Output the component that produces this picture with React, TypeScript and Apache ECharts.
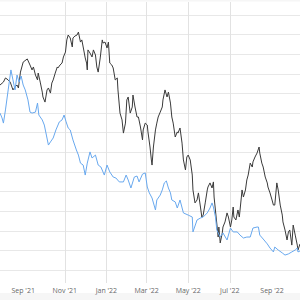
import React, { useEffect, useRef } from 'react';
import * as echarts from 'echarts';

const blackDates = [
  '2021-07-29','2021-08-03','2021-08-06','2021-08-10','2021-08-13','2021-08-17','2021-08-20','2021-08-23','2021-08-25','2021-08-28',
  '2021-09-01','2021-09-07','2021-09-11','2021-09-14','2021-09-16','2021-09-19','2021-09-22','2021-09-23','2021-09-26','2021-09-29',
  '2021-09-30','2021-10-03','2021-10-06','2021-10-08','2021-10-11','2021-10-13','2021-10-15','2021-10-18','2021-10-21','2021-10-22',
  '2021-10-25','2021-10-28','2021-10-30','2021-11-02','2021-11-04','2021-11-06','2021-11-09','2021-11-12','2021-11-13','2021-11-16',
  '2021-11-19','2021-11-21','2021-11-24','2021-11-26','2021-11-28','2021-12-01','2021-12-03','2021-12-04','2021-12-05','2021-12-08',
  '2021-12-11','2021-12-13','2021-12-16','2021-12-18','2021-12-20','2021-12-23','2021-12-26','2021-12-27','2021-12-30','2022-01-02',
  '2022-01-04','2022-01-06','2022-01-09','2022-01-11','2022-01-14','2022-01-17','2022-01-18','2022-01-21','2022-01-24','2022-01-26',
  '2022-01-29','2022-01-31','2022-02-02','2022-02-05','2022-02-08','2022-02-09','2022-02-12','2022-02-15','2022-02-17','2022-02-20',
  '2022-02-23','2022-02-24','2022-02-27','2022-03-02','2022-03-03','2022-03-06','2022-03-08','2022-03-09','2022-03-11','2022-03-14',
  '2022-03-16','2022-03-18','2022-03-21','2022-03-24','2022-03-25','2022-03-28','2022-03-31','2022-04-02','2022-04-05','2022-04-07',
  '2022-04-09','2022-04-12','2022-04-15','2022-04-16','2022-04-19','2022-04-22','2022-04-24','2022-04-27','2022-04-29','2022-05-01',
  '2022-05-04','2022-05-07','2022-05-08','2022-05-11','2022-05-14','2022-05-16','2022-05-19','2022-05-21','2022-05-23','2022-05-26',
  '2022-05-29','2022-05-30','2022-06-02','2022-06-05','2022-06-07','2022-06-08','2022-06-11','2022-06-14','2022-06-15','2022-06-17',
  '2022-06-20','2022-06-21','2022-06-24','2022-06-27','2022-06-29','2022-07-02','2022-07-04','2022-07-06','2022-07-07','2022-07-10',
  '2022-07-13','2022-07-15','2022-07-18','2022-07-19','2022-07-21','2022-07-24','2022-07-26','2022-07-28','2022-07-31','2022-08-03',
  '2022-08-04','2022-08-07','2022-08-10','2022-08-13','2022-08-14','2022-08-17','2022-08-19','2022-08-22','2022-08-25','2022-08-26',
  '2022-08-29','2022-09-01','2022-09-03','2022-09-05','2022-09-08','2022-09-10','2022-09-13','2022-09-16','2022-09-17','2022-09-20',
  '2022-09-23','2022-09-25','2022-09-27','2022-09-30','2022-10-02','2022-10-05','2022-10-08','2022-10-09','2022-10-12',
];
const blackValues = [
  134.3,135.8,137.9,136.9,135.8,131.8,133.3,134.3,132.8,140.9,
  146.0,147.6,144.5,142.0,143.5,139.4,136.9,140.4,135.8,130.7,
  128.2,125.6,131.8,132.8,130.2,135.3,136.9,140.4,143.5,143.0,
  144.5,145.5,148.6,151.1,157.3,159.8,158.3,153.7,158.3,159.3,
  159.8,161.3,156.2,157.3,153.7,148.1,145.5,142.0,152.2,150.6,
  148.6,152.2,149.6,143.5,140.9,148.1,157.3,155.7,156.2,153.2,
  156.2,145.5,144.5,143.0,136.9,137.9,131.8,120.0,116.5,109.8,
  114.9,126.7,128.2,120.0,123.1,129.2,123.1,118.0,118.0,112.9,
  106.3,111.4,114.9,113.9,110.4,102.7,96.1,93.5,102.7,111.4,
  114.9,118.0,120.5,123.1,126.7,131.8,128.2,130.7,125.1,118.0,
  114.9,107.8,110.4,109.8,112.4,104.7,96.1,91.0,97.6,98.6,
  96.1,88.4,80.8,74.2,75.7,79.3,72.1,67.0,68.0,74.2,
  80.8,82.3,84.4,81.8,84.9,77.2,67.0,56.8,61.9,53.8,
  58.9,61.9,64.5,69.1,67.0,61.9,65.5,72.1,67.0,65.5,
  70.6,67.0,77.2,80.8,77.2,80.8,85.9,88.4,94.5,92.5,
  95.1,97.6,99.6,102.7,99.6,94.5,92.5,87.4,84.4,82.3,
  79.3,75.7,73.1,73.1,84.4,80.8,73.1,68.0,64.5,60.4,
  55.3,59.4,60.4,52.7,62.9,57.8,52.7,50.2,53.3,
];

const blueDates = [
  '2021-07-29','2021-08-01','2021-08-03','2021-08-06','2021-08-10','2021-08-13','2021-08-14','2021-08-17','2021-08-20','2021-08-23',
  '2021-08-26','2021-08-29','2021-09-01','2021-09-04','2021-09-08','2021-09-11','2021-09-14','2021-09-19','2021-09-22','2021-09-24',
  '2021-09-29','2021-10-02','2021-10-05','2021-10-08','2021-10-11','2021-10-15','2021-10-19','2021-10-24','2021-10-28','2021-10-31',
  '2021-11-03','2021-11-06','2021-11-09','2021-11-13','2021-11-18','2021-11-21','2021-11-24','2021-11-28','2021-12-01','2021-12-04',
  '2021-12-08','2021-12-11','2021-12-16','2021-12-20','2021-12-24','2021-12-29','2022-01-02','2022-01-06','2022-01-11','2022-01-15',
  '2022-01-20','2022-01-26','2022-01-30','2022-02-02','2022-02-06','2022-02-11','2022-02-15','2022-02-18','2022-02-23','2022-02-27',
  '2022-03-02','2022-03-05','2022-03-09','2022-03-14','2022-03-16','2022-03-21','2022-03-24','2022-03-27','2022-03-30','2022-04-02',
  '2022-04-05','2022-04-07','2022-04-12','2022-04-15','2022-04-19','2022-04-24','2022-05-01','2022-05-07','2022-05-08','2022-05-14',
  '2022-05-19','2022-05-23','2022-05-29','2022-06-02','2022-06-05','2022-06-07','2022-06-10','2022-06-12','2022-06-17','2022-06-21',
  '2022-06-27','2022-07-02','2022-07-06','2022-07-12','2022-07-16','2022-07-21','2022-07-26','2022-07-31','2022-08-04','2022-08-10',
  '2022-08-12','2022-08-14','2022-08-19','2022-08-25','2022-08-29','2022-09-03','2022-09-05','2022-09-10','2022-09-16','2022-09-20',
  '2022-09-25','2022-09-30','2022-10-05','2022-10-08','2022-10-09','2022-10-12',
];
const blueValues = [
  120.0,117.5,114.9,121.6,131.8,139.4,142.0,136.9,131.8,139.4,
  135.8,138.9,134.3,131.8,126.7,120.5,120.0,120.5,125.1,119.0,
  116.5,113.9,108.8,103.7,105.3,107.3,111.4,115.5,116.5,119.0,
  115.5,112.4,111.4,106.3,101.2,98.6,94.5,93.5,88.4,94.5,
  100.2,97.1,98.6,93.5,92.5,88.4,93.5,90.0,87.4,86.9,
  84.9,84.9,88.4,85.9,81.8,87.4,87.9,84.9,88.9,89.5,
  82.3,79.3,76.7,70.6,75.7,78.2,80.8,84.4,85.4,81.8,
  79.3,75.7,74.7,71.6,75.7,69.1,68.0,67.0,59.4,65.5,
  66.5,67.0,69.1,71.6,74.2,72.1,67.0,60.4,56.8,58.9,
  55.3,61.4,59.4,59.4,57.8,56.3,56.8,56.8,61.4,61.9,
  61.9,57.8,55.8,53.3,51.2,49.2,51.7,50.2,48.7,47.6,
  48.2,49.2,50.2,51.2,49.2,49.7,
];

const tickDates = ['2021-09-01', '2021-11-01', '2022-01-01', '2022-03-01', '2022-05-01', '2022-07-01', '2022-09-01'];
const monthNames = ['Jan', 'Feb', 'Mar', 'Apr', 'May', 'Jun', 'Jul', 'Aug', 'Sep', 'Oct', 'Nov', 'Dec'];
const xStart = '2021-07-29';
const xEnd = '2022-10-12';

function toTs(s: string): number {
  const [y, m, d] = s.split('-').map(Number);
  return new Date(y, m - 1, d).getTime();
}

export default function App() {
  const ref = useRef<HTMLDivElement>(null);
  useEffect(() => {
    if (!ref.current) return;
    const chart = echarts.init(ref.current, null, { renderer: 'svg' });
    const ticks = tickDates.map(toTs);
    chart.setOption({
      animation: false,
      backgroundColor: '#ffffff',
      graphic: [
        { type: 'rect', left: 0, top: 0, shape: { width: 300, height: 1.5 }, style: { fill: '#f6f6f6' }, z: -10, silent: true },
        { type: 'rect', left: 0, top: 293, shape: { width: 300, height: 7 }, style: { fill: '#f6f6f6' }, z: -10, silent: true },
      ],
      grid: { left: 0, right: 0, top: 2, bottom: 17, containLabel: false },
      xAxis: {
        type: 'value',
        min: toTs(xStart),
        max: toTs(xEnd),
        axisLine: { show: false },
        axisTick: { show: false, customValues: ticks },
        axisLabel: {
          customValues: ticks,
          color: '#666666',
          fontSize: 7,
          fontFamily: 'Open Sans',
          margin: 4,
          formatter: (v: number) => {
            const d = new Date(v);
            return `${monthNames[d.getMonth()]} '${String(d.getFullYear()).slice(2)}`;
          },
        },
        splitLine: { show: true, showMinLine: false, showMaxLine: false, lineStyle: { color: '#e2e2e2', width: 1 } },
      },
      yAxis: {
        type: 'value',
        min: 33.37,
        max: 176.63,
        splitNumber: 14,
        axisLabel: { show: false },
        axisLine: { show: false },
        axisTick: { show: false },
        splitLine: { show: true, showMinLine: false, showMaxLine: false, lineStyle: { color: '#e8e8e8', width: 1 } },
      },
      series: [
        {
          type: 'line',
          data: blackDates.map((d, i) => [toTs(d), blackValues[i]]),
          showSymbol: false,
          lineStyle: { color: '#3a3a3a', width: 1 },
          itemStyle: { color: '#3a3a3a' },
        },
        {
          type: 'line',
          data: blueDates.map((d, i) => [toTs(d), blueValues[i]]),
          showSymbol: false,
          lineStyle: { color: '#68a8ee', width: 1 },
          itemStyle: { color: '#68a8ee' },
        },
      ],
    });
    return () => chart.dispose();
  }, []);
  return <div ref={ref} style={{ position: 'absolute', left: 0, top: 0, width: 300, height: 300 }} />;
}
